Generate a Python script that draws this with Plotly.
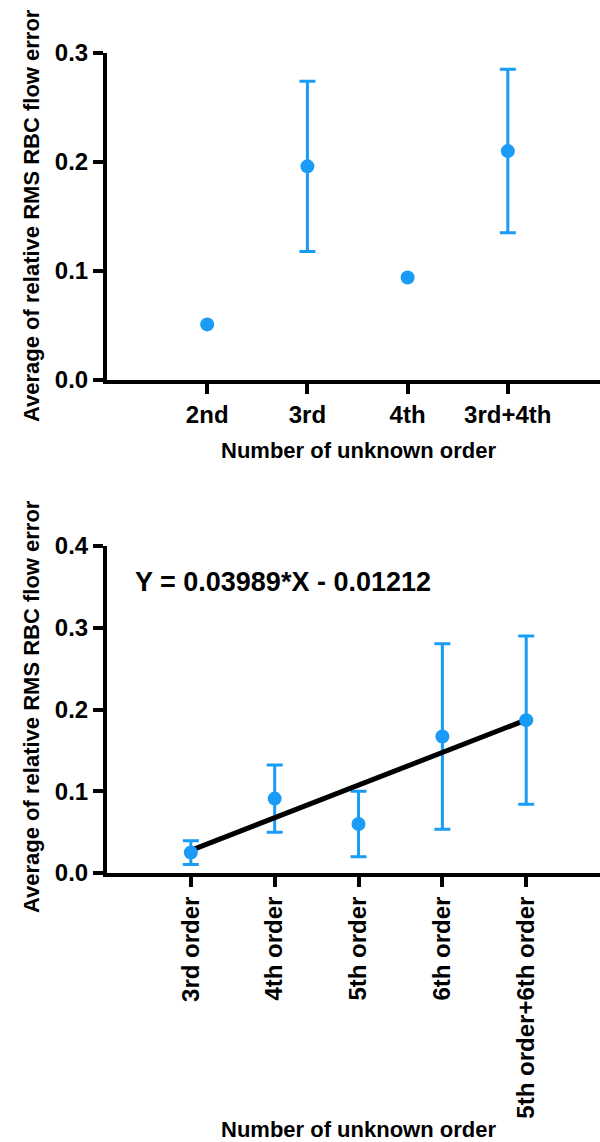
import plotly.graph_objects as go

# ---- data ----
top_categories = ["2nd", "3rd", "4th", "3rd+4th"]
top_x = [1, 2, 3, 4]
top_mean = [0.051, 0.196, 0.094, 0.210]
top_err = [None, 0.078, None, 0.075]

bot_categories = ["3rd order", "4th order", "5th order", "6th order", "5th order+6th order"]
bot_x = [1, 2, 3, 4, 5]
bot_mean = [0.025, 0.091, 0.060, 0.167, 0.187]
bot_err = [0.0145, 0.041, 0.040, 0.1135, 0.103]

fit_slope = 0.03989
fit_intercept = -0.01212
fit_x = [1, 5]
fit_y = [fit_slope * v + fit_intercept for v in fit_x]

y_title = "Average of relative RMS RBC flow error"
x_title = "Number of unknown order"
eq_text = "Y = 0.03989*X - 0.01212"

BLUE = "#1A9BF5"
W, H = 600, 1142
FONT = "Liberation Sans, Arial, Helvetica, sans-serif"

fig = go.Figure()

# top panel: error bars only where an error exists, then markers
eb = [(x, m, e) for x, m, e in zip(top_x, top_mean, top_err) if e is not None]
fig.add_trace(go.Scatter(
    x=[t[0] for t in eb], y=[t[1] for t in eb], mode="markers",
    marker=dict(color=BLUE, size=14, opacity=0),
    error_y=dict(type="data", array=[t[2] for t in eb], visible=True, color=BLUE,
                 thickness=3, width=8),
    xaxis="x", yaxis="y", showlegend=False, cliponaxis=False))
fig.add_trace(go.Scatter(
    x=top_x, y=top_mean, mode="markers",
    marker=dict(color=BLUE, size=14),
    xaxis="x", yaxis="y", showlegend=False, cliponaxis=False))

# bottom panel: error bars, fit line, markers
fig.add_trace(go.Scatter(
    x=bot_x, y=bot_mean, mode="markers",
    marker=dict(color=BLUE, size=14, opacity=0),
    error_y=dict(type="data", array=bot_err, visible=True, color=BLUE,
                 thickness=3, width=8),
    xaxis="x2", yaxis="y2", showlegend=False, cliponaxis=False))
fig.add_trace(go.Scatter(
    x=fit_x, y=fit_y, mode="lines", line=dict(color="black", width=5),
    xaxis="x2", yaxis="y2", showlegend=False))
fig.add_trace(go.Scatter(
    x=bot_x, y=bot_mean, mode="markers",
    marker=dict(color=BLUE, size=14),
    xaxis="x2", yaxis="y2", showlegend=False, cliponaxis=False))

x_left = 107 / W

def ydom(top_px, bot_px):
    return [(H - bot_px) / H, (H - top_px) / H]

axis_common = dict(showline=True, linewidth=4, linecolor="black",
                   ticks="outside", ticklen=10, tickwidth=4, tickcolor="black",
                   showgrid=False, zeroline=False, automargin=False,
                   tickfont=dict(family=FONT, size=24, color="black", weight="bold"))

fig.update_layout(
    width=W, height=H,
    margin=dict(l=0, r=0, t=0, b=0, pad=0),
    paper_bgcolor="white", plot_bgcolor="white",
    xaxis=dict(domain=[x_left, 1.0], range=[0, 4.92], anchor="y",
               tickmode="array", tickvals=top_x, ticktext=top_categories,
               **axis_common),
    yaxis=dict(domain=ydom(53, 380), range=[0, 0.3], anchor="x",
               tickmode="array", tickvals=[0, 0.1, 0.2, 0.3],
               ticktext=["0.0", "0.1", "0.2", "0.3"], **axis_common),
    xaxis2=dict(domain=[x_left, 1.0], range=[0, 5.88], anchor="y2",
                tickmode="array", tickvals=bot_x, ticktext=bot_categories,
                tickangle=-90, **axis_common),
    yaxis2=dict(domain=ydom(546, 873), range=[0, 0.4], anchor="x2",
                tickmode="array", tickvals=[0, 0.1, 0.2, 0.3, 0.4],
                ticktext=["0.0", "0.1", "0.2", "0.3", "0.4"], **axis_common),
)

title_font = dict(family=FONT, size=22, color="black", weight="bold")
ann = [
    dict(text=y_title, x=32 / W, y=(H - 216) / H, textangle=-90),
    dict(text=y_title, x=32 / W, y=(H - 707) / H, textangle=-90),
    dict(text=x_title, x=358 / W, y=(H - 450) / H),
    dict(text=x_title, x=358 / W, y=(H - 1129) / H),
]
for a in ann:
    fig.add_annotation(xref="paper", yref="paper", showarrow=False,
                       xanchor="center", yanchor="middle", font=title_font, **a)

fig.add_annotation(xref="paper", yref="paper", showarrow=False,
                   x=133 / W, y=(H - 582) / H, xanchor="left", yanchor="middle",
                   text=eq_text,
                   font=dict(family=FONT, size=27, color="black", weight="bold"))

fig.write_html("out.html",
               config={"displayModeBar": False},
               post_script="document.body.style.margin='0';document.body.style.padding='0';")
